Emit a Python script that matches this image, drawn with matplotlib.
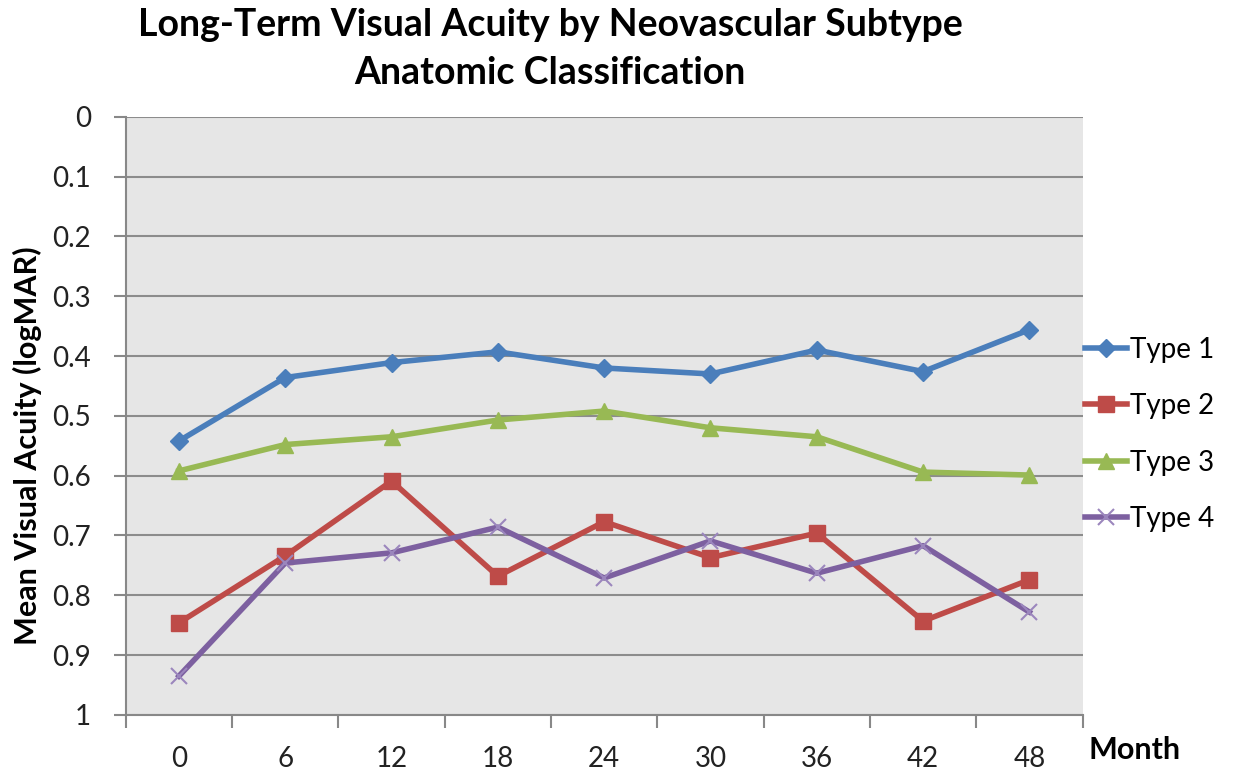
import matplotlib
matplotlib.use("Agg")
import matplotlib.pyplot as plt
import numpy as np

plt.rcParams['font.family'] = ['Lato', 'DejaVu Sans']

months = ['0', '6', '12', '18', '24', '30', '36', '42', '48']
type1 = [0.542, 0.436, 0.411, 0.393, 0.420, 0.430, 0.390, 0.426, 0.356]
type2 = [0.846, 0.734, 0.609, 0.768, 0.677, 0.737, 0.696, 0.843, 0.774]
type3 = [0.592, 0.548, 0.535, 0.507, 0.492, 0.520, 0.535, 0.594, 0.599]
type4 = [0.935, 0.746, 0.729, 0.686, 0.771, 0.709, 0.763, 0.717, 0.828]

fig = plt.figure(figsize=(12.33, 7.78), dpi=100)
ax = fig.add_axes([0.102, 0.081, 0.776, 0.769])
ax.set_facecolor('#e6e6e6')

x = np.arange(len(months))
ax.plot(x, type1, color='#4a7ebb', lw=4, marker='D', ms=9, label='Type 1')
ax.plot(x, type2, color='#be4b48', lw=4, marker='s', ms=12, label='Type 2')
ax.plot(x, type3, color='#98b954', lw=4, marker='^', ms=11, label='Type 3')
ax.plot(x, type4, color='#7d60a0', lw=4, marker='x', ms=12, mew=1.5,
        mec='#9b86bd', label='Type 4')

ax.set_xlim(-0.5, len(months) - 0.5)
ax.set_ylim(1, 0)
ax.set_yticks(np.arange(0, 1.01, 0.1))
ax.set_yticklabels(['0', '0.1', '0.2', '0.3', '0.4', '0.5', '0.6', '0.7', '0.8', '0.9', '1'])
ax.set_xticks(x)
ax.set_xticklabels(months)
ax.set_xticks(np.arange(-0.5, len(months), 1), minor=True)
ax.tick_params(axis='x', which='major', length=0, pad=22, labelsize=20, colors='#222222')
ax.tick_params(axis='x', which='minor', length=9, width=1.5, color='#888888')
ax.tick_params(axis='y', length=9, width=1.5, color='#888888', labelsize=20,
               pad=16, labelcolor='#222222')
ax.grid(axis='y', color='#8c8c8c', lw=1.5)
ax.set_axisbelow(True)
for s in ['top', 'right']:
    ax.spines[s].set_visible(False)
for s in ['left', 'bottom']:
    ax.spines[s].set_color('#888888')
    ax.spines[s].set_linewidth(1.5)

ax.set_ylabel('Mean Visual Acuity (logMAR)', fontsize=22, fontweight='bold')
ax.yaxis.set_label_coords(-0.088, 0.45)
ax.text(1.006, -0.035, 'Month', transform=ax.transAxes, fontsize=22, fontweight='bold',
        va='top', ha='left')
fig.text(0.446, 0.99, 'Long-Term Visual Acuity by Neovascular Subtype\nAnatomic Classification',
         ha='center', va='top', fontsize=27, fontweight='bold', linespacing=1.5)

ax.legend(loc='center left', bbox_to_anchor=(1.0, 0.469), frameon=False, fontsize=20,
          handlelength=1.5, handletextpad=0.1, labelspacing=1.1, borderaxespad=0,
          borderpad=0.1)

fig.savefig('out.png', dpi=100)
